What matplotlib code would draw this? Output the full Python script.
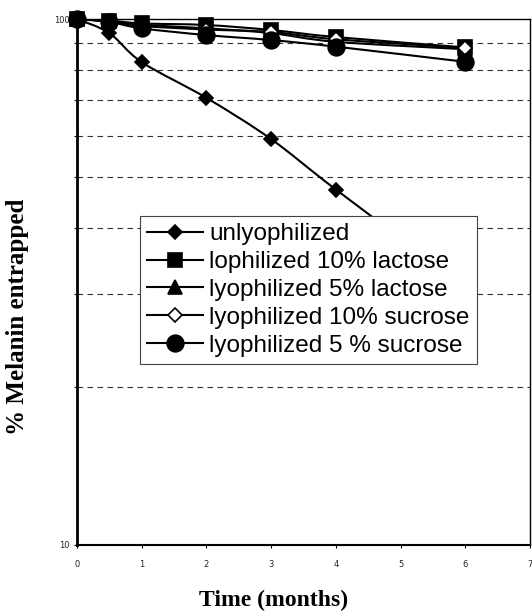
import numpy as np
import matplotlib
matplotlib.use("Agg")
import matplotlib.pyplot as plt
from matplotlib.path import Path
from matplotlib.patches import PathPatch
from matplotlib.lines import Line2D
from matplotlib.ticker import FixedLocator, NullFormatter, FixedFormatter

months = [0, 0.5, 1, 2, 3, 4, 6]
series_names = ["unlyophilized", "lophilized 10% lactose", "lyophilized 5% lactose",
                "lyophilized 10% sucrose", "lyophilized 5 % sucrose"]
unlyophilized = [100, 94, 82.8, 70.8, 59.1, 47.4, 31]
lactose10 = [100, 99.3, 98.1, 97.4, 95.3, 92.4, 88.3]
lactose5 = [100, 99.0, 97.5, 96.0, 94.0, 90.5, 87.6]
sucrose10 = [100, 99.0, 97.0, 95.5, 94.5, 91.5, 88.1]
sucrose5 = [100, 98.7, 96.0, 93.2, 91.2, 88.6, 82.9]
x_ticks = [0, 1, 2, 3, 4, 5, 6, 7]
y_major = [10, 100]
y_minor = [20, 30, 40, 50, 60, 70, 80, 90]

styles = [
    dict(marker="D", mfc="black", ms=7.5),
    dict(marker="s", mfc="black", ms=9.5),
    dict(marker="^", mfc="black", ms=9.5),
    dict(marker="D", mfc="white", ms=7.5),
    dict(marker="o", mfc="black", ms=12),
]

W, H = 532, 615
fig = plt.figure(figsize=(W / 100, H / 100), dpi=100)
ax = fig.add_axes([77/W, 1-545/H, 453/W, 526/H])
ax.set_yscale("log")
ax.set_xlim(0, 7)
ax.set_ylim(10, 100)


def smooth_path(xs, ys):
    # Catmull-Rom style bezier in (x, log10 y) space, like spreadsheet smoothing
    px = np.asarray(xs, float)
    py = np.log10(np.asarray(ys, float))
    n = len(px)
    verts = [(px[0], py[0])]
    codes = [Path.MOVETO]
    for i in range(n - 1):
        p0 = np.array([px[max(i-1, 0)], py[max(i-1, 0)]])
        p1 = np.array([px[i], py[i]])
        p2 = np.array([px[i+1], py[i+1]])
        p3 = np.array([px[min(i+2, n-1)], py[min(i+2, n-1)]])
        c1 = p1 + (p2 - p0) / 6.0
        c2 = p2 - (p3 - p1) / 6.0
        verts += [tuple(c1), tuple(c2), tuple(p2)]
        codes += [Path.CURVE4] * 3
    verts = [(v[0], 10 ** v[1]) for v in verts]
    return Path(verts, codes)


all_series = [unlyophilized, lactose10, lactose5, sucrose10, sucrose5]
handles = []
for name, vals, st in zip(series_names, all_series, styles):
    patch = PathPatch(smooth_path(months, vals), facecolor="none", edgecolor="black",
                      lw=1.5, zorder=2)
    ax.add_patch(patch)
    ax.plot(months, vals, linestyle="none", marker=st["marker"], mfc=st["mfc"],
            mec="black", mew=1.2, ms=st["ms"], zorder=3, clip_on=False)
    handles.append(Line2D([], [], color="black", lw=1.5, marker=st["marker"],
                          mfc=st["mfc"], mec="black", mew=1.2, ms=st["ms"]))

ax.yaxis.set_major_locator(FixedLocator(y_major))
ax.yaxis.set_major_formatter(FixedFormatter([str(v) for v in y_major]))
ax.yaxis.set_minor_locator(FixedLocator(y_minor))
ax.yaxis.set_minor_formatter(NullFormatter())
ax.set_xticks(x_ticks)
ax.set_xticklabels([str(v) for v in x_ticks])
ax.tick_params(axis="both", which="major", labelsize=6, length=2.5, width=0.8,
               direction="out", colors="black", labelcolor="#222222")
ax.tick_params(axis="x", which="major", pad=8)
ax.tick_params(axis="y", which="major", pad=3)
ax.tick_params(axis="y", which="minor", length=2, width=0.8, direction="out")
ax.grid(True, which="minor", axis="y", linestyle=(0, (5, 4)), color="#333333", lw=0.8)

ax.spines["left"].set_linewidth(2.0)
ax.spines["bottom"].set_linewidth(1.5)
ax.spines["top"].set_linewidth(1.0)
ax.spines["right"].set_linewidth(1.0)

fig.text(274/W, 1-600/H, "Time (months)", family="Liberation Serif", fontweight="bold",
         fontsize=17, ha="center", va="center")
fig.text(18/W, 1-317/H, "% Melanin entrapped", family="Liberation Serif",
         fontweight="bold", fontsize=18, ha="center", va="center", rotation=90)

leg = ax.legend(handles, series_names, loc="upper left", bbox_to_anchor=(0.139, 0.6255),
                borderaxespad=0, prop=dict(family="Liberation Sans", size=17.5),
                handlelength=2.3, handletextpad=0.25, labelspacing=0.24,
                borderpad=0.3, fancybox=False, framealpha=1, edgecolor="#444444")
leg.get_frame().set_linewidth(0.8)
leg.set_zorder(5)

fig.savefig("out.png", dpi=100)
